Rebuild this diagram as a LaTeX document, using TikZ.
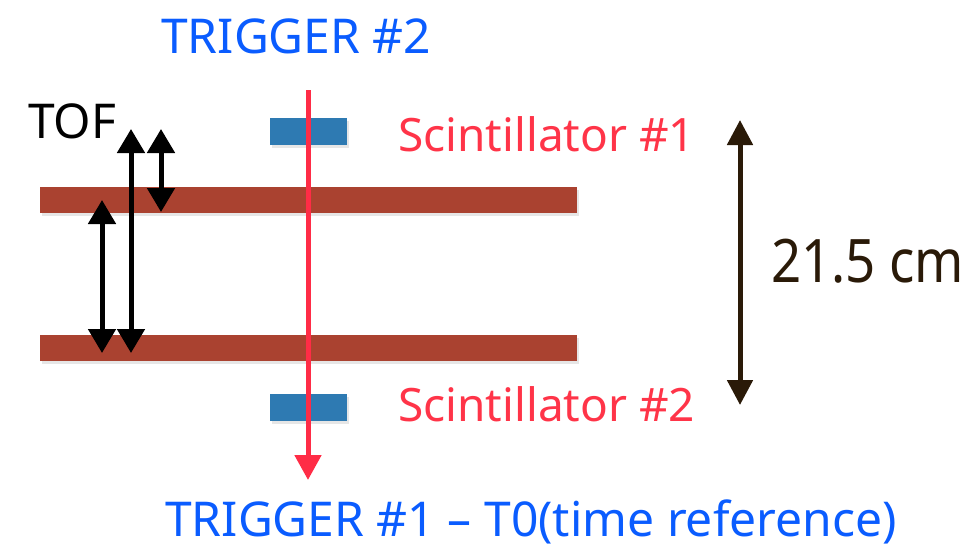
\documentclass[tikz,border=0pt]{standalone}
\usepackage{fontspec}
\setmainfont{Noto Sans}
\newfontfamily\narrowsans[FakeStretch=0.88]{Noto Sans}
\usetikzlibrary{arrows.meta,shadows}
\definecolor{plate}{RGB}{170,66,48}
\definecolor{scint}{RGB}{46,122,178}
\definecolor{redarr}{RGB}{255,44,70}
\definecolor{redtxt}{RGB}{255,52,72}
\definecolor{bluetxt}{RGB}{10,92,255}
\definecolor{dkbrown}{RGB}{42,26,8}
\tikzset{
  platebox/.style={fill=plate, draw=none, minimum width=537pt, minimum height=26pt, inner sep=0pt,
    drop shadow={shadow xshift=2pt, shadow yshift=-3pt, opacity=0.2}},
  scintbox/.style={fill=scint, draw=none, minimum width=77pt, minimum height=27pt, inner sep=0pt,
    drop shadow={shadow xshift=2pt, shadow yshift=-3pt, opacity=0.2}},
  lbl/.style={inner sep=0pt, anchor=base west, font=\fontsize{48}{52}\selectfont},
  tofarrow/.style={line width=5pt, {Triangle[width=27pt,length=24pt]}-{Triangle[width=27pt,length=24pt]}},
}
\begin{document}
\begin{tikzpicture}[x=1pt,y=-1pt]
\useasboundingbox (0,0) rectangle (977,549);
% plates
\node[platebox] (p1) at (308.5,199.5) {};
\node[platebox] (p2) at (308.5,347.5) {};
% scintillators
\node[scintbox] (s1) at (308.5,131.5) {};
\node[scintbox] (s2) at (308.5,407) {};
% red trigger arrow
\coordinate (rtop) at (308,90);
\coordinate (rbot) at (308,480);
\draw[redarr, line width=5pt, -{Triangle[width=26pt,length=25pt]}] (rtop) -- (rbot);
% TOF arrows
\coordinate (a1) at (102,200);
\coordinate (a2) at (102,353);
\coordinate (b1) at (131,129);
\coordinate (b2) at (131,353);
\coordinate (c1) at (161,129);
\coordinate (c2) at (161,212);
\draw[tofarrow] (a1) -- (a2);
\draw[tofarrow] (b1) -- (b2);
\draw[tofarrow] (c1) -- (c2);
% distance arrow
\coordinate (d1) at (740,120);
\coordinate (d2) at (740,405);
\draw[dkbrown, line width=5pt, {Triangle[width=25pt,length=25pt]}-{Triangle[width=25pt,length=25pt]}] (d1) -- (d2);
% labels
\node[lbl, text=bluetxt] (t2) at (161,53) {TRIGGER \#2};
\node[lbl, text=bluetxt] (t1) at (165,536) {TRIGGER \#1 – T0(time reference)};
\node[lbl, text=redtxt, font=\fontsize{46}{50}\selectfont] (sc1) at (398,151) {Scintillator \#1};
\node[lbl, text=redtxt, font=\fontsize{46}{50}\selectfont] (sc2) at (398,421) {Scintillator \#2};
\node[lbl, text=black] (tof) at (28,138) {TOF};
\node[inner sep=0pt, anchor=base west, font=\narrowsans\fontsize{60}{64}\selectfont, text=dkbrown] (dist) at (771,282) {21.5 cm};
\end{tikzpicture}
\end{document}
